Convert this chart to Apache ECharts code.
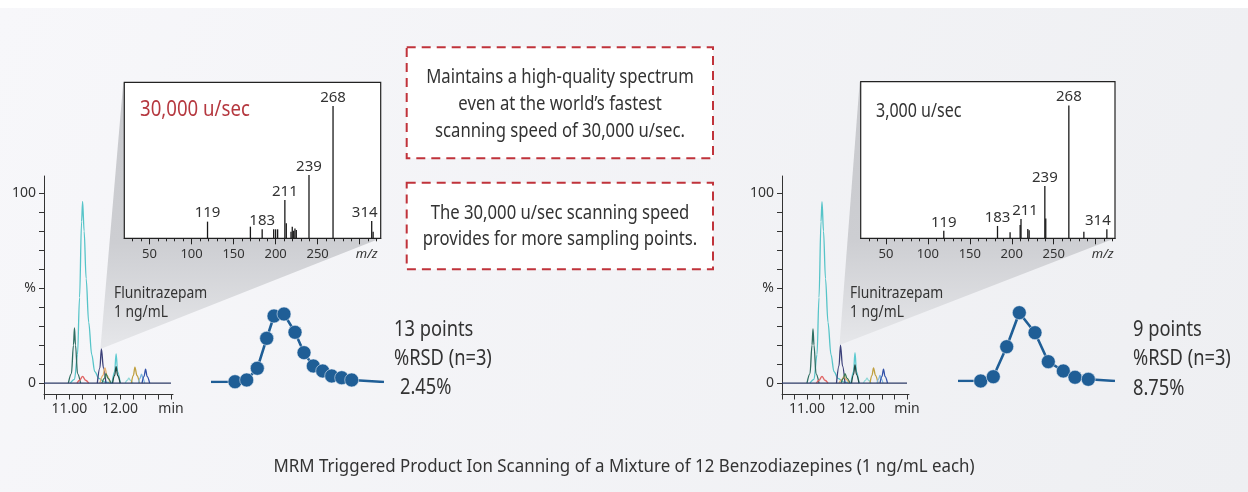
<!DOCTYPE html>
<html><head><meta charset="utf-8">
<script src="https://cdn.jsdelivr.net/npm/echarts@6/dist/echarts.min.js"></script>
<style>html,body{margin:0;padding:0;background:#fff;}#c{width:1248px;height:492px;}</style>
</head><body><div id="c"></div>
<script>
// ---------------- DATA ----------------
// Chromatogram (retention time in min, relative intensity %)
const chromTicks = [10.5,10.75,11,11.25,11.5,11.75,12,12.25,12.5,12.75,13];
const chromLabels = [11,12,13];
const chromYTicks = [0,10,20,30,40,50,60,70,80,90,100];
const chromYLabels = [0,50,100];

const chromLeft = [
  [[11.02,0],[11.10,2],[11.16,15],[11.20,45],[11.24,85],[11.26,95.6],[11.29,80],[11.33,55],[11.38,32],[11.44,15],[11.50,6],[11.58,2.5],[11.70,0.5],[11.85,0]],
  [[10.98,0],[11.04,5],[11.08,20],[11.10,29],[11.12,20],[11.16,5],[11.22,0]],
  [[11.15,0],[11.20,1.5],[11.26,3.5],[11.32,1.5],[11.38,0]],
  [[11.55,0],[11.60,8],[11.63,18],[11.67,8],[11.72,0]],
  [[11.60,0],[11.66,4],[11.70,8],[11.74,4],[11.80,0]],
  [[11.64,0],[11.69,2.5],[11.72,5],[11.76,2.5],[11.82,0]],
  [[11.84,0],[11.89,6],[11.92,15.4],[11.95,6],[12.00,0]],
  [[11.85,0],[11.89,4],[11.92,8.6],[11.95,4],[12.00,0]],
  [[12.10,0],[12.14,1.5],[12.17,2.6],[12.20,1.5],[12.25,0]],
  [[12.22,0],[12.26,4],[12.29,8.4],[12.33,4],[12.38,0]],
  [[12.36,0],[12.39,2.5],[12.42,4.7],[12.45,2.5],[12.48,0]],
  [[12.43,0],[12.47,3.5],[12.50,7.4],[12.53,3.5],[12.58,0]],
  [[10.5,0],[13.0,0]]
];
const chromRight = [
  [[11.06,0],[11.14,2],[11.20,15],[11.24,45],[11.28,85],[11.30,95.5],[11.33,80],[11.37,55],[11.42,32],[11.48,15],[11.54,6],[11.62,2.5],[11.74,0.5],[11.88,0]],
  [[11.00,0],[11.06,5],[11.10,20],[11.12,28.5],[11.14,20],[11.18,5],[11.24,0]],
  [[11.19,0],[11.24,1.5],[11.30,3.5],[11.36,1.5],[11.42,0]],
  [[11.59,0],[11.64,9],[11.67,20],[11.71,9],[11.76,0]],
  [[11.64,0],[11.70,2],[11.74,3.5],[11.78,2],[11.84,0]],
  [[11.68,0],[11.73,2.5],[11.76,5],[11.80,2.5],[11.86,0]],
  [[11.88,0],[11.93,6],[11.96,16],[11.99,6],[12.04,0]],
  [[11.89,0],[11.93,4.5],[11.96,9.6],[11.99,4.5],[12.04,0]],
  [[12.13,0],[12.17,1.5],[12.20,2.6],[12.23,1.5],[12.28,0]],
  [[12.26,0],[12.30,4],[12.33,8],[12.37,4],[12.42,0]],
  [[12.40,0],[12.43,2],[12.46,4],[12.49,2],[12.52,0]],
  [[12.46,0],[12.50,3.5],[12.53,7.4],[12.56,3.5],[12.61,0]],
  [[10.5,0],[13.0,0]]
];
// apex of the peak that is zoomed into the spectrum (Flunitrazepam)
const apexLeft = [11.63,18];
const apexRight = [11.67,20];

// Product ion spectra: [m/z, relative intensity, label]
const mzMinorTicks = [30,40,50,60,70,80,90,100,110,120,130,140,150,160,170,180,190,200,210,220,230,240,250,260,270,280,290,300,310,320];
const mzMajorTicks = [50,100,150,200,250,300];
const specLeft = [
  [119,12.6,'119'],[170,8.8,null],[184,6.8,'183'],[197.7,6.8,null],[200,6.8,null],[202.4,6.8,null],
  [211,29,'211'],[212.7,11.3,null],[218.3,5,null],[219.8,8.8,null],[221.5,5.8,null],[223,7.5,null],[224.6,6.3,null],
  [239.7,47.9,'239'],[268.3,100,'268'],[314.3,13,'314'],[316,5,null]
];
const specRight = [
  [119,5.7,'119'],[183,9.3,'183'],[198,4.5,null],[210,10,null],[211,14.5,'211'],[219.1,7,null],[220.7,6,null],
  [239.4,39.4,'239'],[240.5,15,null],[268,100,'268'],[285.9,5,null],[313.3,6.8,'314']
];
const speedLeft = '30,000 u/sec';
const speedRight = '3,000 u/sec';

// Sampling points across the peak (scan time s, intensity %)
const dotsLeft = [[2.4,0.4],[3.57,2.9],[4.63,19.6],[5.57,62.4],[6.3,94.3],[7.3,97.1],[8.4,71],[9.3,41.9],[10.23,22.9],[11.17,15.7],[12.07,8.6],[13.07,6.1],[14.07,2.9]];
const dotsRight = [[2.27,0],[3.53,6.1],[4.87,49],[6.13,97.6],[7.7,69],[9.03,27.6],[10.53,14.3],[11.7,5.3],[13.03,2.4]];
const dotsLeftSpan = [0,17.3];
const dotsRightSpan = [0,15.7];

const infoLeft = ['13 points','%RSD (n=3)','2.45%'];
const infoRight = ['9 points','%RSD (n=3)','8.75%'];
const box1Lines = ['Maintains a high-quality spectrum','even at the world\u2019s fastest','scanning speed of 30,000 u/sec.'];
const box2Lines = ['The 30,000 u/sec scanning speed','provides for more sampling points.'];
const compound = ['Flunitrazepam','1 ng/mL'];
const caption = 'MRM Triggered Product Ion Scanning of a Mixture of 12 Benzodiazepines (1 ng/mL each)';

// ---------------- STYLE / LAYOUT ----------------
const FF = "'Noto Sans',sans-serif";
const TXT = '#333';
const traceColors = ['#56c4c8','#2f6e62','#e06464','#3a3f78','#e8b070','#3d7a55','#5ccad0','#1f4a44','#90d8d8','#c0a040','#80b8e0','#3050a8','#2d3a66'];
const DOT = '#1f5e96';

const grids = [
  {left:44, top:176, width:129, height:218.5},          // 0 chrom L
  {left:124.3, top:82.3, width:256.4, height:156},      // 1 spectrum L
  {left:211, top:312, width:173, height:70},            // 2 dots L
  {left:782, top:176, width:127, height:218.5},         // 3 chrom R
  {left:860.7, top:81.7, width:254.3, height:156.6},    // 4 spectrum R
  {left:958, top:311, width:157, height:70}             // 5 dots R
];

const chart = echarts.init(document.getElementById('c'));

function chromAxes(gi){
  return {
    x: {gridIndex:gi, type:'value', min:10.5, max:13.04,
      axisLine:{show:true,onZero:false,lineStyle:{color:'#333',width:1}},
      axisTick:{show:true,customValues:chromTicks,length:5,lineStyle:{color:'#333'}},
      axisLabel:{customValues:chromLabels,margin:8,color:TXT,fontSize:14,fontFamily:'Noto Sans',
        formatter:v=> v===13?'min':v.toFixed(2)},
      splitLine:{show:false}},
    y: {gridIndex:gi, type:'value', min:-6, max:109,
      axisLine:{show:true,onZero:false,lineStyle:{color:'#333',width:1}},
      axisTick:{show:true,customValues:chromYTicks,length:5,lineStyle:{color:'#333'}},
      axisLabel:{customValues:chromYLabels,margin:8,color:TXT,fontSize:14,fontFamily:'Noto Sans',
        formatter:v=> v===50?'%':String(v)},
      splitLine:{show:false}}
  };
}
function specAxes(gi,max){
  return {
    x1:{gridIndex:gi,type:'value',min:20,max:max,position:'bottom',
      axisLine:{show:true,onZero:false,lineStyle:{color:'#222',width:1.2}},
      axisTick:{show:true,customValues:mzMinorTicks,length:3,lineStyle:{color:'#222'}},
      axisLabel:{show:false},splitLine:{show:false}},
    x2:{gridIndex:gi,type:'value',min:20,max:max,position:'bottom',
      axisLine:{show:false},
      axisTick:{show:true,customValues:mzMajorTicks,length:6,lineStyle:{color:'#222'}},
      axisLabel:{customValues:mzMajorTicks,margin:9,color:TXT,fontSize:13,fontFamily:'Noto Sans',
        formatter:v=> v===300?'{i|m/z}':String(v),
        rich:{i:{fontStyle:'italic',fontSize:13,fontFamily:'Noto Sans',color:TXT,padding:[0,0,0,14]}}},
      splitLine:{show:false}},
    y:{gridIndex:gi,type:'value',min:0,max:118,show:false}
  };
}
function dotsAxes(gi,span){
  return {x:{gridIndex:gi,type:'value',min:span[0],max:span[1],show:false},
          y:{gridIndex:gi,type:'value',min:0,max:100,show:false}};
}

const cL=chromAxes(0), sL=specAxes(1,325), dL=dotsAxes(2,dotsLeftSpan);
const cR=chromAxes(3), sR=specAxes(4,323), dR=dotsAxes(5,dotsRightSpan);
const xAxis=[cL.x, sL.x1, sL.x2, dL.x, cR.x, sR.x1, sR.x2, dR.x];
const yAxis=[cL.y, sL.y, dL.y, cR.y, sR.y, dR.y];

const series=[];
function addChrom(traces,xi,yi){
  traces.forEach((t,i)=>series.push({type:'line',xAxisIndex:xi,yAxisIndex:yi,data:t,showSymbol:false,
    smooth:0.35,smoothMonotone:'x',silent:true,z:5,
    lineStyle:{color:traceColors[i],width:1.3}}));
}
const labelOffsets={L:{'314':[-7,0]},R:{'314':[-9,0],'211':[4,0]}};
function addSpec(peaks,xi,yi,side){
  series.push({type:'bar',xAxisIndex:xi,yAxisIndex:yi,barWidth:1.3,barGap:'-100%',silent:true,z:5,
    itemStyle:{color:'#1a1a1a'},
    data:peaks.map(p=>{
      const it={value:[p[0],p[1]]};
      if(p[2]) it.label={show:true,position:'top',distance:1,formatter:p[2],color:TXT,fontSize:15,fontFamily:'Noto Sans',
        offset:(labelOffsets[side][p[2]]||[0,0])};
      return it;
    })});
}
function addDots(d,span,xi,yi){
  const data=[{value:[span[0],0],symbol:'none'}].concat(d.map(p=>({value:p}))).concat([{value:[span[1],0],symbol:'none'}]);
  series.push({type:'line',xAxisIndex:xi,yAxisIndex:yi,data:data,symbol:'circle',symbolSize:14,silent:true,z:6,
    lineStyle:{color:DOT,width:2.6},itemStyle:{color:DOT,borderColor:'rgba(235,240,248,0.7)',borderWidth:0.8}});
}
addChrom(chromLeft,0,0);
addSpec(specLeft,1,1,'L');
addDots(dotsLeft,dotsLeftSpan,3,2);
addChrom(chromRight,4,3);
addSpec(specRight,5,4,'R');
addDots(dotsRight,dotsRightSpan,7,5);

// text drawn in a humanist face, horizontally condensed to the reference widths
function text(t,x,y,size,sx,opts){
  opts=opts||{};
  return {type:'text',z:20,x:x,y:y,scaleX:sx,silent:true,
    style:{text:t,fill:opts.fill||TXT,font:size+'px '+FF,
      textAlign:opts.align||'left',textVerticalAlign:'middle'}};
}
const graphics=[
  {type:'rect',z:-20,silent:true,shape:{x:0,y:8,width:1248,height:484},
   style:{fill:new echarts.graphic.LinearGradient(0,0,1,1,[{offset:0,color:'#f7f7fa'},{offset:1,color:'#eeeff2'}])}},
  {type:'rect',z:1,silent:true,shape:{x:406.7,y:47.3,width:306.3,height:111},
   style:{fill:'#fff',stroke:'#c0333b',lineWidth:2,lineDash:[9,6]}},
  {type:'rect',z:1,silent:true,shape:{x:406.7,y:182.7,width:306.3,height:86.6},
   style:{fill:'#fff',stroke:'#c0333b',lineWidth:2,lineDash:[9,6]}},
];
box1Lines.forEach((l,i)=>graphics.push(text(l,560,77+i*27,20,0.834,{align:'center'})));
box2Lines.forEach((l,i)=>graphics.push(text(l,560,213+i*26.5,20,0.834,{align:'center'})));
graphics.push(text(speedLeft,140,110,22,0.846,{fill:'#b5383f'}));
graphics.push(text(speedRight,876,112,19,0.843));
graphics.push(text(compound[0],114,293,16,0.865));
graphics.push(text(compound[1],114,312.5,16,0.865));
graphics.push(text(compound[0],850,293,16,0.865));
graphics.push(text(compound[1],850,312.5,16,0.865));
infoLeft.forEach((l,i)=>graphics.push(text(l,i===2?400:394,330+i*29,21,0.87)));
infoRight.forEach((l,i)=>graphics.push(text(l,1133,330+i*29.5,21,0.87)));
graphics.push(text(caption,624,467,17.5,0.965,{align:'center'}));

chart.setOption({
  animation:false,
  grid:grids.map((g,i)=>Object.assign({containLabel:false},g,
    (i===1||i===4)?{show:true,backgroundColor:'#fff',borderColor:'#222',borderWidth:1.2}:{})),
  xAxis:xAxis, yAxis:yAxis, series:series, graphic:graphics
});

// wedge "zoom" shading from the Flunitrazepam peak to the spectrum box
function wedge(chromGrid,specGrid,apex){
  const p=chart.convertToPixel({gridIndex:chromGrid},apex);
  const g=grids[specGrid];
  return {type:'polygon',z:-5,silent:true,
    shape:{points:[[p[0]-1,p[1]],[g.left-1,g.top],[g.left+g.width,g.top+g.height]]},
    style:{fill:new echarts.graphic.LinearGradient(0,0,0,1,[{offset:0,color:'#c8c9cd'},{offset:0.6,color:'#cdced2'},{offset:1,color:'#e6e7ea'}])}};
}
chart.setOption({graphic:graphics.concat([wedge(0,1,apexLeft),wedge(3,4,apexRight)])});
</script></body></html>
